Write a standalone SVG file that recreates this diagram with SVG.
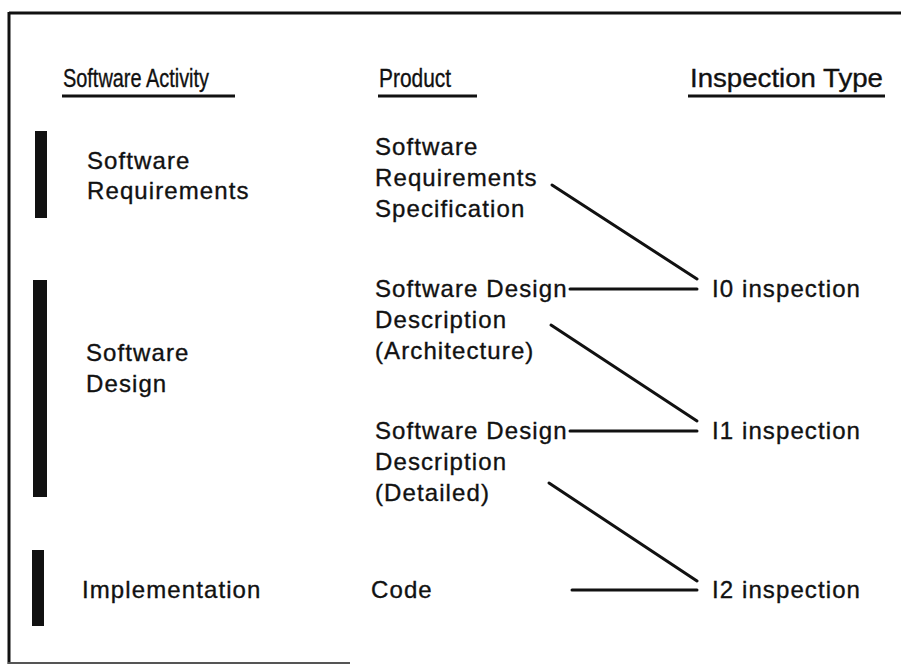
<svg xmlns="http://www.w3.org/2000/svg" width="901" height="666" viewBox="0 0 901 666">
<style>
  .t { font-family: "Liberation Sans", Arial, sans-serif; font-size: 24px; letter-spacing: 1.1px; fill: #111; stroke: #111; stroke-width: 0.35px; }
  .h { font-family: "Liberation Sans", Arial, sans-serif; font-size: 26px; fill: #111; stroke: #111; stroke-width: 0.35px; }
  .ul { stroke: #111; stroke-width: 3; }
  .bar { fill: #111; }
  .c { stroke: #111; stroke-width: 3; fill: none; stroke-linecap: round; }
  .bd { stroke: #111; stroke-width: 3; fill: none; }
</style>
<rect width="901" height="666" fill="#fff"/>
<g id="frame">
  <line class="bd" x1="9" y1="13" x2="901" y2="13"/>
  <line class="bd" x1="9" y1="12" x2="9" y2="664"/>
  <line x1="8" y1="663" x2="350" y2="663" stroke="#555" stroke-width="2"/>
</g>
<g id="headers">
  <g id="h-activity">
    <text class="h" x="63" y="87" textLength="146" lengthAdjust="spacingAndGlyphs">Software Activity</text>
    <line class="ul" x1="62" y1="96" x2="235" y2="96"/>
  </g>
  <g id="h-product">
    <text class="h" x="379" y="87" textLength="72" lengthAdjust="spacingAndGlyphs">Product</text>
    <line class="ul" x1="378" y1="96" x2="477" y2="96"/>
  </g>
  <g id="h-inspection">
    <text class="h" x="690" y="87" textLength="193" lengthAdjust="spacingAndGlyphs">Inspection Type</text>
    <line class="ul" x1="688" y1="96" x2="885" y2="96"/>
  </g>
</g>
<g id="act-requirements">
  <rect class="bar" x="35" y="131" width="12" height="87"/>
  <text class="t" x="87" y="169">Software</text>
  <text class="t" x="87" y="199">Requirements</text>
</g>
<g id="act-design">
  <rect class="bar" x="33" y="280" width="14" height="217"/>
  <text class="t" x="86" y="361">Software</text>
  <text class="t" x="86" y="392">Design</text>
</g>
<g id="act-implementation">
  <rect class="bar" x="32" y="550" width="12" height="76"/>
  <text class="t" x="82" y="598">Implementation</text>
</g>
<g id="prod-srs">
  <text class="t" x="375" y="155">Software</text>
  <text class="t" x="375" y="186">Requirements</text>
  <text class="t" x="375" y="217">Specification</text>
</g>
<g id="prod-sdd-arch">
  <text class="t" x="375" y="297">Software Design</text>
  <text class="t" x="375" y="328">Description</text>
  <text class="t" x="375" y="359">(Architecture)</text>
</g>
<g id="prod-sdd-detail">
  <text class="t" x="375" y="439">Software Design</text>
  <text class="t" x="375" y="470">Description</text>
  <text class="t" x="375" y="501">(Detailed)</text>
</g>
<g id="prod-code">
  <text class="t" x="371" y="598">Code</text>
</g>
<g id="insp-i0">
  <text class="t" x="712" y="297">I0 inspection</text>
</g>
<g id="insp-i1">
  <text class="t" x="712" y="439">I1 inspection</text>
</g>
<g id="insp-i2">
  <text class="t" x="712" y="598">I2 inspection</text>
</g>
<g id="connectors">
  <line class="c" x1="552" y1="185" x2="697" y2="279"/>
  <line class="c" x1="570" y1="289" x2="697" y2="289"/>
  <line class="c" x1="551" y1="325" x2="697" y2="421"/>
  <line class="c" x1="570" y1="431" x2="697" y2="431"/>
  <line class="c" x1="549" y1="483" x2="697" y2="581"/>
  <line class="c" x1="572" y1="590" x2="697" y2="590"/>
</g>
</svg>
